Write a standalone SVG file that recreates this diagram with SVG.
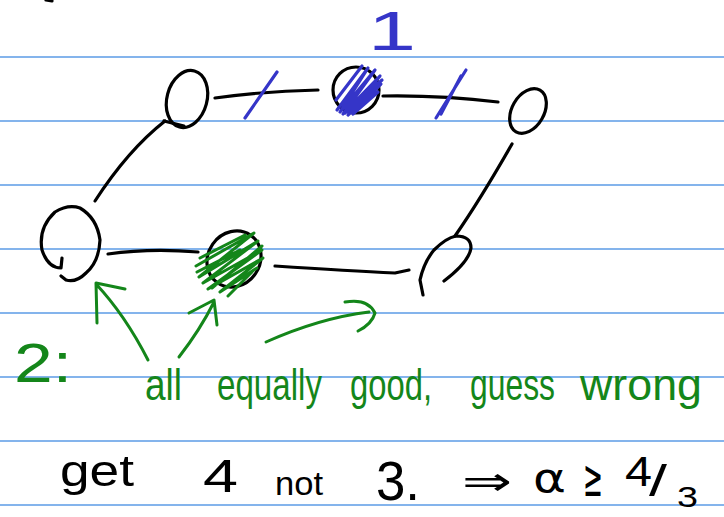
<svg xmlns="http://www.w3.org/2000/svg" width="724" height="517" viewBox="0 0 724 517">
<style>
.rule{stroke:#5b9be6;stroke-width:1.5}
.ink{fill:none;stroke:#000;stroke-width:3.2;stroke-linecap:round;stroke-linejoin:round}
.blue{fill:none;stroke:#3535c8;stroke-width:3.2;stroke-linecap:round;stroke-linejoin:round}
.green{fill:none;stroke:#14861a;stroke-width:3;stroke-linecap:round;stroke-linejoin:round}
.tg{font-family:"Liberation Sans",Arial,sans-serif;fill:#14861a}
.tb{font-family:"Liberation Sans",Arial,sans-serif;fill:#000}
.tbl{font-family:"Liberation Sans",Arial,sans-serif;fill:#3535c8}
.sym{font-family:"DejaVu Sans",sans-serif;fill:#000}
</style>
<rect width="724" height="517" fill="#fff"/>
<g id="rules">
<line class="rule" x1="0" y1="57" x2="724" y2="57"/>
<line class="rule" x1="0" y1="121" x2="724" y2="121"/>
<line class="rule" x1="0" y1="185" x2="724" y2="185"/>
<line class="rule" x1="0" y1="249" x2="724" y2="249"/>
<line class="rule" x1="0" y1="313" x2="724" y2="313"/>
<line class="rule" x1="0" y1="377" x2="724" y2="377"/>
<line class="rule" x1="0" y1="441" x2="724" y2="441"/>
<line class="rule" x1="0" y1="505" x2="724" y2="505"/>
</g>
<path class="ink" d="M46,0 L52,1"/>
<g id="connectors">
<path class="ink" d="M215,98 Q265,91 318,90"/>
<path class="ink" d="M383,96 Q440,95 498,102"/>
<path class="ink" d="M165,121 Q128,150 95,201"/>
<path class="ink" d="M512,144 Q480,200 455,236"/>
<path class="ink" d="M108,254 Q150,248 198,252"/>
<path class="ink" d="M275,266 Q350,271 395,273 L409,270"/>
<path class="blue" d="M277,72 L245,118"/>
<path class="blue" d="M466,70 L436,118 M461,76 L441,114"/>
</g>
<g id="node-tl"><ellipse class="ink" cx="187" cy="99" rx="20" ry="29" transform="rotate(15 187 99)"/><path class="ink" d="M164,121 L184,126"/></g>
<g id="node-tm">
<ellipse class="ink" cx="356" cy="90" rx="23" ry="23"/>
<path class="blue" d="M337,110 L368,68 L340,112 L375,70 L343,114 L380,76 L348,115 L381,84 L353,114 L378,92 M336,100 L362,66 M345,113 L382,80"/>
</g>
<g id="node-tr"><ellipse class="ink" cx="528" cy="111" rx="16" ry="24" transform="rotate(30 528 111)"/></g>
<g id="node-bl"><path class="ink" d="M62,258 L61,268 Q48,268 42,250 Q38,228 55,212 Q68,204 80,208 Q97,218 100,240 Q99,262 86,273 Q76,283 66,280 L61,276"/></g>
<g id="node-bm">
<ellipse class="ink" cx="234" cy="259" rx="26" ry="29" transform="rotate(35 234 259)"/>
<path class="green" d="M196,266 L254,233 L199,277 L258,241 L203,283 L262,250 L208,289 L263,258 L220,292 L257,268 M200,258 L245,235 M197,272 L240,250 M228,296 L252,272 M212,288 L262,246"/>
</g>
<g id="node-br"><path class="ink" d="M423,295 L420,280 Q424,262 434,250 Q446,238 456,236 Q471,236 471,248 Q469,262 444,281"/></g>
<g id="arrows">
<path class="green" d="M148,360 Q125,315 96,284 M97,323 L96,283 L125,289"/>
<path class="green" d="M179,357 Q200,330 214,302 M189,313 L214,300 L217,325"/>
<path class="green" d="M266,342 Q320,318 369,312 M345,302 Q368,298 375,313 Q372,324 358,331"/>
</g>
<g id="labels">
<text class="tbl" x="368" y="50" font-size="56" textLength="48" lengthAdjust="spacingAndGlyphs">1</text>
<text class="tg" x="14" y="382" font-size="56" textLength="58" lengthAdjust="spacingAndGlyphs">2:</text>
<text class="tg" x="145" y="400" font-size="44" textLength="37" lengthAdjust="spacingAndGlyphs">all</text>
<text class="tg" x="217" y="400" font-size="44" textLength="105" lengthAdjust="spacingAndGlyphs">equally</text>
<text class="tg" x="350" y="400" font-size="44" textLength="82" lengthAdjust="spacingAndGlyphs">good,</text>
<text class="tg" x="470" y="400" font-size="44" textLength="85" lengthAdjust="spacingAndGlyphs">guess</text>
<text class="tg" x="580" y="400" font-size="44" textLength="122" lengthAdjust="spacingAndGlyphs">wrong</text>
<text class="tb" x="60" y="486" font-size="44" textLength="74" lengthAdjust="spacingAndGlyphs">get</text>
<text class="tb" x="203" y="492" font-size="46" textLength="35" lengthAdjust="spacingAndGlyphs">4</text>
<text class="tb" x="275" y="495" font-size="34" textLength="48" lengthAdjust="spacingAndGlyphs">not</text>
<text class="tb" x="376" y="500" font-size="56" textLength="44" lengthAdjust="spacingAndGlyphs">3.</text>
<text class="sym" x="462" y="495" font-size="40" textLength="50" lengthAdjust="spacingAndGlyphs">⇒</text>
<text class="sym" x="533" y="492" font-size="40" textLength="33" lengthAdjust="spacingAndGlyphs">α</text>
<text class="sym" x="583" y="496" font-size="52" textLength="20" lengthAdjust="spacingAndGlyphs">≥</text>
<text class="tb" x="625" y="486" font-size="42" textLength="27" lengthAdjust="spacingAndGlyphs">4</text>
<text class="tb" x="649" y="496" font-size="44" textLength="18" lengthAdjust="spacingAndGlyphs">/</text>
<text class="tb" x="677" y="507" font-size="30" textLength="21" lengthAdjust="spacingAndGlyphs">3</text>
</g>
</svg>
